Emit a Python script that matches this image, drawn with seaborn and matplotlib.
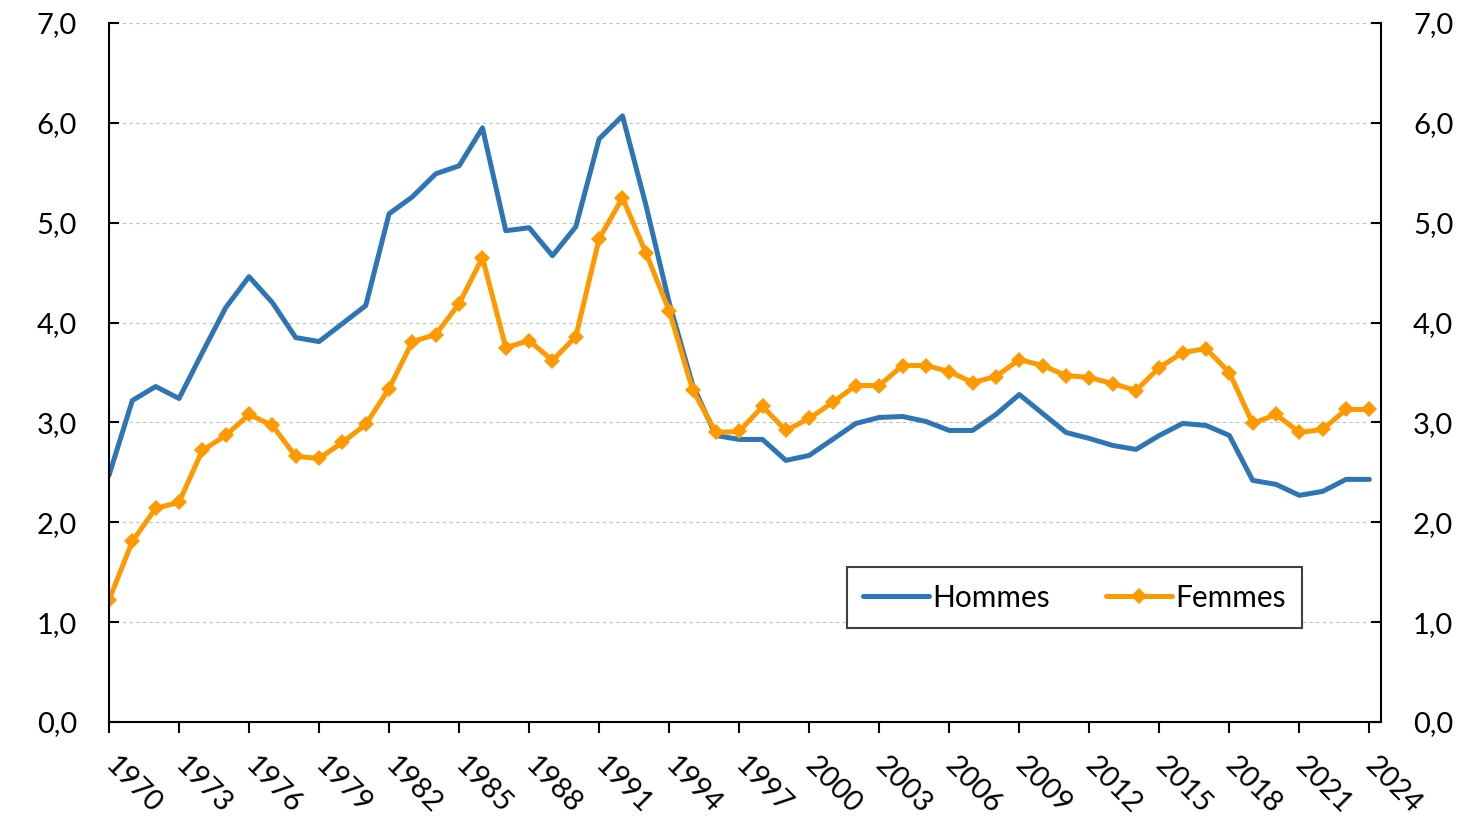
import numpy as np
import pandas as pd
import matplotlib
matplotlib.use('Agg')
import matplotlib.pyplot as plt
from matplotlib.ticker import FuncFormatter
import seaborn as sns

# Data
years = list(range(1970, 2025))

hommes = [2.47, 3.22, 3.36, 3.24, 3.70, 4.15, 4.46, 4.20, 3.85, 3.81,
          3.99, 4.17, 5.09, 5.26, 5.49, 5.57, 5.95, 4.92, 4.95, 4.67,
          4.96, 5.84, 6.07, 5.18, 4.20, 3.38, 2.87, 2.83, 2.83, 2.62,
          2.67, 2.83, 2.99, 3.05, 3.06, 3.01, 2.92, 2.92, 3.08, 3.28,
          3.09, 2.90, 2.84, 2.77, 2.73, 2.87, 2.99, 2.97, 2.87, 2.42,
          2.38, 2.27, 2.31, 2.43, 2.43]

femmes = [1.22, 1.81, 2.14, 2.20, 2.72, 2.87, 3.08, 2.97, 2.66, 2.64,
          2.80, 2.98, 3.34, 3.81, 3.88, 4.19, 4.65, 3.75, 3.82, 3.62,
          3.86, 4.84, 5.25, 4.70, 4.12, 3.33, 2.90, 2.91, 3.16, 2.92,
          3.04, 3.20, 3.37, 3.37, 3.57, 3.57, 3.51, 3.40, 3.46, 3.63,
          3.57, 3.47, 3.45, 3.39, 3.32, 3.55, 3.70, 3.74, 3.50, 2.99,
          3.08, 2.90, 2.93, 3.13, 3.13]

series_names = ['Hommes', 'Femmes']
colors = ['#2E75B6', '#FF9900']
year_ticks = list(range(1970, 2025, 3))
y_ticks = [0, 1, 2, 3, 4, 5, 6, 7]

sns.set_style('white')
plt.rcParams['font.family'] = ['Lato', 'DejaVu Sans']
plt.rcParams['text.color'] = 'black'
plt.rcParams['xtick.color'] = 'black'
plt.rcParams['ytick.color'] = 'black'

df = pd.DataFrame({'Année': years, 'Hommes': hommes, 'Femmes': femmes})

fig = plt.figure(figsize=(14.65, 8.22), dpi=100)
ax = fig.add_axes([0.0744, 0.1216, 0.9427 - 0.0744, 0.972 - 0.1216])

sns.lineplot(data=df, x='Année', y='Hommes', ax=ax, color=colors[0],
             linewidth=3.6, label=series_names[0], solid_capstyle='round')
sns.lineplot(data=df, x='Année', y='Femmes', ax=ax, color=colors[1],
             linewidth=3.6, marker='D', markersize=8, markeredgewidth=0,
             label=series_names[1])

ax.set_xlim(1970, 2024.5)
ax.set_ylim(0, 7)
ax.set_xlabel('')
ax.set_ylabel('')

fmt = FuncFormatter(lambda v, p: f"{v:.1f}".replace('.', ','))
ax.set_yticks(y_ticks)
ax.yaxis.set_major_formatter(fmt)
ax.set_xticks(year_ticks)
ax.set_xticklabels([str(y) for y in year_ticks], rotation=-45,
                   ha='left', va='center', rotation_mode='anchor')

ax.grid(axis='y', color='#BFBFBF', linestyle=(0, (3, 3)), linewidth=0.8)
ax.grid(axis='x', visible=False)

for side in ['top', 'right']:
    ax.spines[side].set_visible(False)
for side in ['left', 'bottom']:
    ax.spines[side].set_linewidth(1.5)
    ax.spines[side].set_color('black')

ax.tick_params(axis='y', direction='in', length=7, width=1.5,
               labelsize=21, pad=23, left=True)
ax.tick_params(axis='x', direction='out', length=8, width=1.5,
               labelsize=21, pad=20, bottom=True)

# right hand axis, same scale
ax2 = ax.twinx()
ax2.set_ylim(0, 7)
ax2.set_yticks(y_ticks)
ax2.yaxis.set_major_formatter(fmt)
ax2.tick_params(axis='y', direction='in', length=7, width=1.5,
                labelsize=21, pad=23, right=True)
ax2.spines['right'].set_linewidth(1.5)
ax2.spines['right'].set_color('black')
for side in ['top', 'left', 'bottom']:
    ax2.spines[side].set_visible(False)
ax2.grid(False)

leg = ax.legend(loc='center', bbox_to_anchor=(0.759, 0.178), ncol=2,
                fontsize=21.5, frameon=True, fancybox=False,
                edgecolor='#404040', handlelength=2.2, handletextpad=0.1,
                columnspacing=1.9, borderpad=0.55)
leg.get_frame().set_linewidth(1.5)
leg.get_frame().set_alpha(1)

fig.savefig('out.png', dpi=100)
